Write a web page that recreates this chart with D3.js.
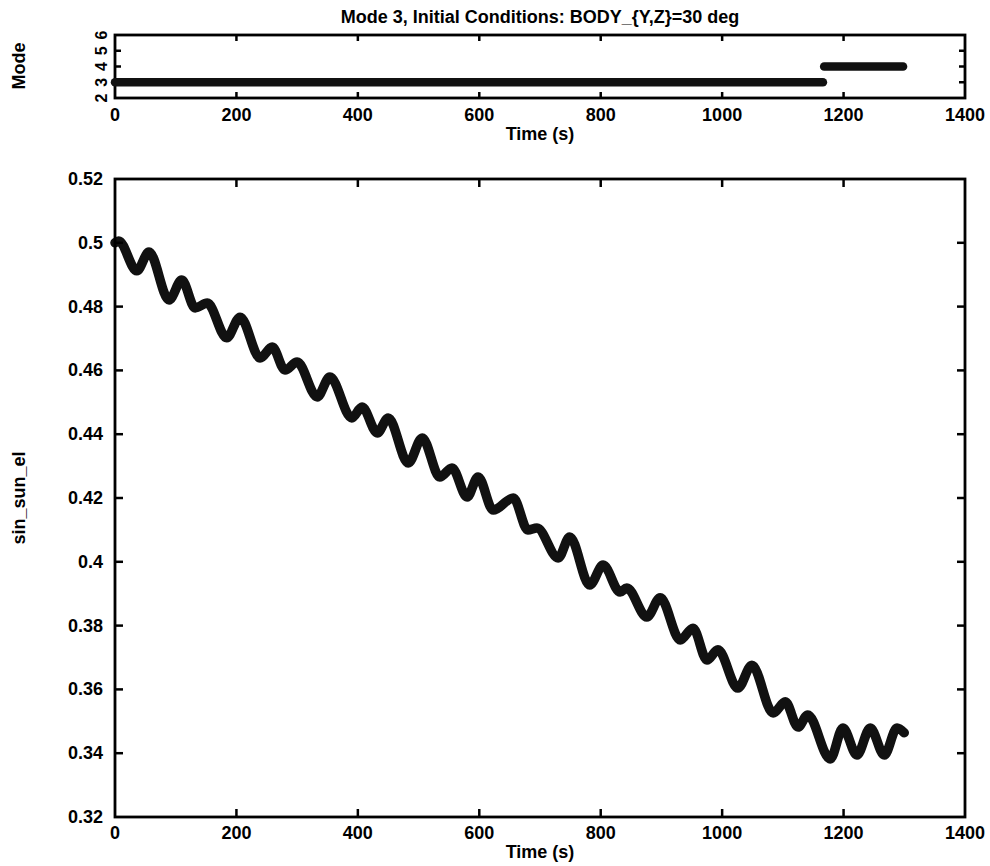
<!DOCTYPE html>
<head>
<meta charset="utf-8">
<title>Mode 3 sin_sun_el</title>
<script type="text/javascript" src="https://d3js.org/d3.v7.min.js"></script>
<style>
    body { margin: 0; background: #fff; }
    svg text {
    font-family: "Liberation Sans", Arial, sans-serif;
    font-weight: bold;
    fill: #000;
    }
    .frame {
    fill: none;
    stroke: #000;
    stroke-width: 2.8;
    }
    .tick-mark {
    stroke: #000;
    stroke-width: 2.5;
    }
    .tick-label { font-size: 18px; }
    .sun-line {
    fill: none;
    stroke: #111;
    stroke-width: 9.5;
    stroke-linejoin: round;
    stroke-linecap: round;
    }
    .mode-band {
    stroke: #111;
    stroke-width: 8.5;
    stroke-linecap: round;
    }
</style>
</head>
<body>
<div id="container"></div>
<script>
//-----------------------------DATA-----------------------------//
var timeTicks = [0, 200, 400, 600, 800, 1000, 1200, 1400];
var modeTicks = [2, 3, 4, 5, 6];
var sunTicks = [0.32, 0.34, 0.36, 0.38, 0.4, 0.42, 0.44, 0.46, 0.48, 0.5, 0.52];

// mode history (value held between start and end time)
var modeValue = [3, 4];
var modeStart = [0, 1168];
var modeEnd   = [1166, 1298];

// sin_sun_el (peaks and troughs)
var sunTime = [0, 6, 36, 56, 89, 110, 132, 152, 184, 206, 239, 259, 280, 300, 333, 354,
    390, 407, 432, 450, 483, 506, 535, 555, 580, 598, 623, 656, 680, 695, 730, 749,
    782, 804, 832, 843, 876, 898, 931, 952, 975, 993, 1026, 1049, 1084, 1104, 1125, 1141,
    1178, 1199, 1222, 1244, 1267, 1288, 1300];
var sunValue = [0.500, 0.5006, 0.4912, 0.4971, 0.4821, 0.4883, 0.4796, 0.4811, 0.4702, 0.4767,
    0.4639, 0.4673, 0.4601, 0.4626, 0.4517, 0.4579, 0.4451, 0.4485, 0.4404, 0.4451,
    0.4310, 0.4388, 0.4266, 0.4294, 0.4203, 0.4266, 0.4162, 0.4200, 0.4100, 0.4106,
    0.4012, 0.4078, 0.3927, 0.3990, 0.3905, 0.3918, 0.3827, 0.3887, 0.3755, 0.3792,
    0.3692, 0.3724, 0.3604, 0.3676, 0.3526, 0.3561, 0.3482, 0.3520, 0.3382, 0.3479,
    0.3394, 0.3479, 0.3394, 0.3479, 0.3464];

//-----------------------------SVG------------------------------//
var width = 990, height = 866;
var svg = d3.select("div#container").append("svg")
    .attr("width", width)
    .attr("height", height);

var left = 115, right = 965;

//----------------------------SCALES----------------------------//
var xScale = d3.scaleLinear().domain([0, 1400]).range([left, right]);
var yMode = d3.scaleLinear().domain([2, 6]).range([98, 35]);
var ySun = d3.scaleLinear().domain([0.32, 0.52]).range([817, 179]);

// draws frame + inward ticks on all four sides
function drawFrame(g, yScale, yTicks, tickLen, yFmt, rotateY) {
    var y0 = yScale.range()[0], y1 = yScale.range()[1];
    g.append("rect").attr("class", "frame")
        .attr("x", left).attr("y", y1)
        .attr("width", right - left).attr("height", y0 - y1);

    timeTicks.slice(1, -1).forEach(function(t) {
        g.append("line").attr("class", "tick-mark")
            .attr("x1", xScale(t)).attr("x2", xScale(t))
            .attr("y1", y0).attr("y2", y0 - tickLen);
        g.append("line").attr("class", "tick-mark")
            .attr("x1", xScale(t)).attr("x2", xScale(t))
            .attr("y1", y1).attr("y2", y1 + tickLen);
    });
    yTicks.slice(1, -1).forEach(function(v) {
        g.append("line").attr("class", "tick-mark")
            .attr("x1", left).attr("x2", left + tickLen)
            .attr("y1", yScale(v)).attr("y2", yScale(v));
        g.append("line").attr("class", "tick-mark")
            .attr("x1", right).attr("x2", right - tickLen)
            .attr("y1", yScale(v)).attr("y2", yScale(v));
    });

    g.selectAll(".ytl").data(yTicks).enter().append("text")
        .attr("class", "tick-label ytl")
        .attr("transform", function(v) {
            if (rotateY) return "translate(107," + yScale(v) + ") rotate(-90)";
            return "translate(" + (left - 12) + "," + (yScale(v) + 6) + ")";
        })
        .attr("text-anchor", rotateY ? "middle" : "end")
        .style("font-size", rotateY ? "16px" : "18px")
        .text(yFmt);
}

//----------------------------TOP PANEL----------------------------//
var modePanel = svg.append("g");
drawFrame(modePanel, yMode, modeTicks, 6, function(d) { return d; }, true);

modePanel.selectAll(".mode-band").data(modeValue).enter().append("line")
    .attr("class", "mode-band")
    .attr("x1", function(d, i) { return xScale(modeStart[i]); })
    .attr("x2", function(d, i) { return xScale(modeEnd[i]); })
    .attr("y1", function(d) { return yMode(d); })
    .attr("y2", function(d) { return yMode(d); });

modePanel.selectAll(".xtl").data(timeTicks).enter().append("text")
    .attr("class", "tick-label xtl")
    .attr("x", function(d) { return xScale(d); })
    .attr("y", 121)
    .attr("text-anchor", "middle")
    .text(function(d) { return d; });

modePanel.append("text").attr("class", "tick-label")
    .attr("x", 540).attr("y", 140).attr("text-anchor", "middle")
    .text("Time (s)");

modePanel.append("text").attr("class", "tick-label")
    .attr("transform", "translate(25,66) rotate(-90)")
    .attr("text-anchor", "middle")
    .text("Mode");

svg.append("text").attr("class", "tick-label")
    .attr("x", 540).attr("y", 23).attr("text-anchor", "middle")
    .text("Mode 3, Initial Conditions: BODY_{Y,Z}=30 deg");

//----------------------------MAIN PANEL----------------------------//
var mainPanel = svg.append("g");

var sunLine = d3.line()
    .x(function(d, i) { return xScale(sunTime[i]); })
    .y(function(d) { return ySun(d); })
    .curve(d3.curveMonotoneX);

mainPanel.append("path")
    .datum(sunValue)
    .attr("class", "sun-line")
    .attr("d", sunLine);

drawFrame(mainPanel, ySun, sunTicks, 8, function(d) { return +d.toFixed(2); }, false);

mainPanel.selectAll(".xtl").data(timeTicks).enter().append("text")
    .attr("class", "tick-label xtl")
    .attr("x", function(d) { return xScale(d); })
    .attr("y", 839)
    .attr("text-anchor", "middle")
    .text(function(d) { return d; });

mainPanel.append("text").attr("class", "tick-label")
    .attr("x", 540).attr("y", 858).attr("text-anchor", "middle")
    .text("Time (s)");

mainPanel.append("text").attr("class", "tick-label")
    .attr("transform", "translate(25,498) rotate(-90)")
    .attr("text-anchor", "middle")
    .text("sin_sun_el");
</script>
</body>
